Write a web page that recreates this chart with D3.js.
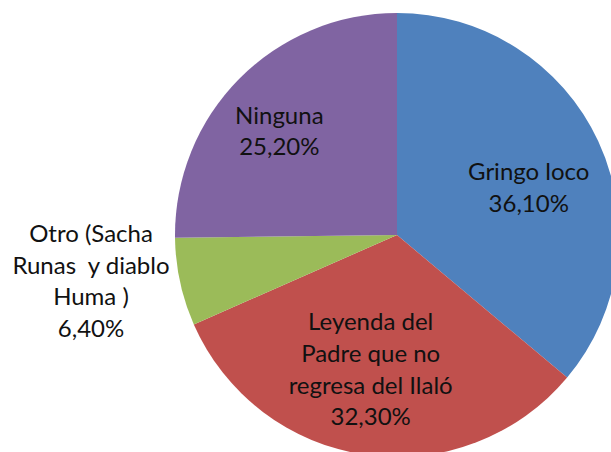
<!DOCTYPE html>
<html><head><meta charset="utf-8">
<script src="https://cdn.jsdelivr.net/npm/d3@7"></script>
<style>html,body{margin:0;padding:0;background:#fff;}svg{display:block;}</style>
</head><body>
<svg id="chart" width="611" height="452"></svg>
<script>
const categories = ["Gringo loco", "Leyenda del Padre que no regresa del Ilaló", "Otro (Sacha Runas  y diablo Huma )", "Ninguna"];
const labelLines = [["Gringo loco"], ["Leyenda del", "Padre que no", "regresa del Ilaló"], ["Otro (Sacha", "Runas  y diablo", "Huma )"], ["Ninguna"]];
const values = [36.1, 32.3, 6.4, 25.2];
const valueLabels = ["36,10%", "32,30%", "6,40%", "25,20%"];
const colors = ["#4F81BD", "#C0504D", "#9BBB59", "#8064A2"];

const svg = d3.select("#chart");
const cx = 397, cy = 235, r = 222;
const g = svg.append("g").attr("transform", `translate(${cx},${cy})`);

const pie = d3.pie().sort(null).value(d => d.value);
const data = categories.map((c, i) => ({cat: c, value: values[i], i}));
const arcs = pie(data);
const arc = d3.arc().innerRadius(0).outerRadius(r);

g.selectAll("path").data(arcs).enter().append("path")
  .attr("d", arc).attr("fill", d => colors[d.data.i]);

// label layout: centroid on a label arc + nudges
const labelArc = d3.arc().innerRadius(r * 0.65).outerRadius(r * 0.65);
const nudges = [[1, 14], [-6, -8], [-165, 16], [-15, -2]];
const lineH = 31.6, fs = 24;

arcs.forEach(d => {
  const i = d.data.i;
  const [x0, y0] = labelArc.centroid(d);
  const x = x0 + nudges[i][0], y = y0 + nudges[i][1];
  const lines = labelLines[i].concat([valueLabels[i]]);
  const first = y - (lines.length - 1) * lineH / 2 + 8;
  const t = g.append("text").attr("text-anchor", "middle")
    .attr("font-family", "Lato, 'Open Sans', sans-serif")
    .attr("font-size", fs).attr("fill", "#111");
  lines.forEach((ln, k) => {
    t.append("tspan").attr("x", x).attr("y", first + k * lineH)
      .style("white-space", "pre").text(ln);
  });
});
</script>
</body></html>
